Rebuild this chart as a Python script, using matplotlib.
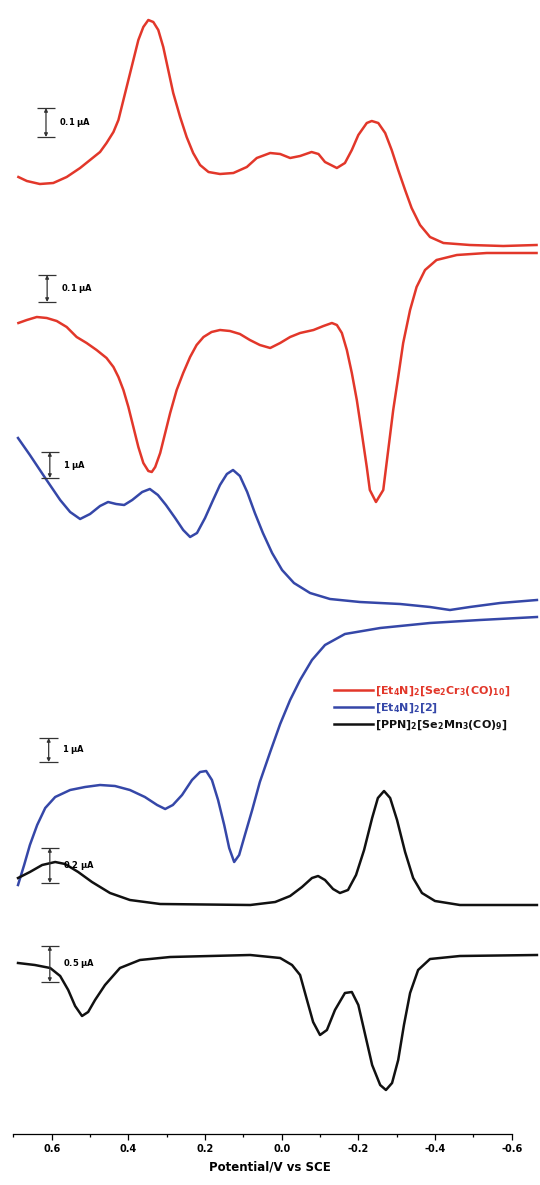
import matplotlib.pyplot as plt

plt.rcParams['font.family'] = ['DejaVu Sans']
plt.rcParams['mathtext.default'] = 'regular'

# potential (V vs SCE) and stacked current traces (display units, offset)
cr_ox_E = [0.687, 0.665, 0.631, 0.596, 0.561, 0.526, 0.500, 0.474, 0.457, 0.439, 0.426, 0.413, 0.400,
           0.387, 0.374, 0.361, 0.348, 0.335, 0.322, 0.309, 0.296, 0.283, 0.265, 0.248, 0.231, 0.213,
           0.191, 0.161, 0.126, 0.091, 0.065, 0.030, 0.004, -0.022, -0.048, -0.078, -0.096, -0.113,
           -0.144, -0.165, -0.183, -0.200, -0.222, -0.235, -0.252, -0.270, -0.287, -0.304, -0.322,
           -0.339, -0.361, -0.387, -0.422, -0.491, -0.578, -0.665]
cr_ox_i = [957, 953, 950, 951, 957, 966, 974, 982, 991, 1002, 1014, 1034, 1054,
           1074, 1094, 1107, 1114, 1112, 1104, 1087, 1064, 1041, 1017, 997, 981, 969,
           962, 960, 961, 967, 976, 981, 980, 976, 978, 982, 980, 972,
           966, 971, 984, 999, 1011, 1013, 1011, 1001, 984, 964, 944,
           926, 909, 897, 891, 889, 888, 889]

cr_red_E = [0.687, 0.665, 0.639, 0.613, 0.587, 0.561, 0.535, 0.509, 0.483, 0.457, 0.439, 0.426, 0.413,
            0.400, 0.387, 0.374, 0.361, 0.348, 0.339, 0.330, 0.317, 0.304, 0.291, 0.274, 0.257, 0.239,
            0.222, 0.204, 0.183, 0.161, 0.135, 0.109, 0.083, 0.057, 0.030, 0.004, -0.022, -0.048,
            -0.083, -0.109, -0.131, -0.144, -0.157, -0.170, -0.183, -0.196, -0.209, -0.222, -0.230,
            -0.246, -0.265, -0.278, -0.291, -0.304, -0.317, -0.335, -0.352, -0.374, -0.404, -0.457,
            -0.535, -0.665]
cr_red_i = [811, 814, 817, 816, 813, 807, 797, 791, 784, 776, 767, 757, 744,
            727, 707, 687, 671, 663, 662, 667, 681, 701, 721, 744, 761, 777,
            789, 797, 802, 804, 803, 800, 794, 789, 786, 791, 797, 801,
            804, 808, 811, 809, 801, 784, 761, 734, 701, 667, 644,
            632, 644, 684, 724, 757, 791, 824, 847, 864, 874, 879,
            881, 881]

b_ox_E = [0.688, 0.657, 0.617, 0.578, 0.552, 0.526, 0.500, 0.474, 0.453, 0.432, 0.411, 0.390, 0.364,
          0.344, 0.323, 0.302, 0.278, 0.257, 0.239, 0.221, 0.200, 0.179, 0.161, 0.143, 0.127, 0.109,
          0.090, 0.070, 0.049, 0.025, -0.001, -0.032, -0.074, -0.126, -0.204, -0.309, -0.387, -0.439,
          -0.491, -0.570, -0.666]
b_ox_i = [696, 679, 656, 634, 622, 615, 620, 628, 632, 630, 629, 634, 642,
          645, 639, 629, 616, 604, 597, 601, 616, 634, 649, 660, 664, 658,
          642, 621, 601, 581, 564, 551, 541, 535, 532, 530, 527, 524,
          527, 531, 534]

b_red_E = [0.688, 0.672, 0.657, 0.638, 0.617, 0.591, 0.552, 0.513, 0.474, 0.435, 0.396, 0.357, 0.325,
           0.304, 0.284, 0.260, 0.234, 0.213, 0.197, 0.182, 0.166, 0.150, 0.137, 0.124, 0.111, 0.096,
           0.077, 0.057, 0.030, 0.004, -0.022, -0.048, -0.079, -0.113, -0.165, -0.257, -0.387, -0.517,
           -0.666]
b_red_i = [249, 269, 289, 309, 326, 337, 344, 347, 349, 348, 344, 337, 329,
           325, 329, 339, 354, 362, 363, 354, 334, 309, 286, 272, 279, 299,
           324, 352, 382, 410, 434, 454, 474, 489, 500, 506, 511, 514,
           517]

mn_ox_E = [0.688, 0.657, 0.625, 0.591, 0.565, 0.531, 0.495, 0.448, 0.396, 0.317, 0.082, 0.017, -0.022,
           -0.053, -0.079, -0.095, -0.113, -0.134, -0.152, -0.173, -0.194, -0.215, -0.236, -0.251,
           -0.267, -0.283, -0.301, -0.322, -0.343, -0.366, -0.400, -0.465, -0.666]
mn_ox_i = [256, 262, 269, 272, 270, 262, 252, 241, 234, 230, 229, 232, 238,
           247, 256, 258, 254, 245, 241, 244, 259, 284, 316, 336,
           343, 336, 314, 282, 256, 241, 233, 229, 229]

mn_red_E = [0.688, 0.644, 0.604, 0.578, 0.557, 0.539, 0.521, 0.505, 0.487, 0.461, 0.422, 0.370, 0.291,
            0.082, 0.004, -0.027, -0.048, -0.066, -0.082, -0.100, -0.118, -0.139, -0.165, -0.183,
            -0.200, -0.215, -0.236, -0.257, -0.272, -0.288, -0.304, -0.319, -0.335, -0.356, -0.387,
            -0.465, -0.666]
mn_red_i = [171, 169, 166, 158, 144, 128, 118, 122, 134, 149, 166, 174, 177,
            179, 176, 169, 159, 134, 112, 99, 104, 124, 141, 142,
            129, 104, 69, 49, 44, 51, 74, 109, 141, 164, 175,
            178, 179]

# scale bars: label, x, bottom, top
bar_labels = ['0.1 $\\mu$A', '0.1 $\\mu$A', '1 $\\mu$A', '1 $\\mu$A', '0.2 $\\mu$A', '0.5 $\\mu$A']
bar_x = [0.615, 0.612, 0.605, 0.608, 0.605, 0.605]
bar_lo = [997, 832, 656, 372, 251, 152]
bar_hi = [1026, 859, 682, 396, 286, 188]

names = ['[Et$_4$N]$_2$[Se$_2$Cr$_3$(CO)$_{10}$]', '[Et$_4$N]$_2$[2]', '[PPN]$_2$[Se$_2$Mn$_3$(CO)$_9$]']
red, blue, black = '#e2372a', '#3547a8', '#111111'

fig = plt.figure(figsize=(5.4, 11.85), dpi=100)
ax = fig.add_axes([0, 51 / 1185, 1, 1134 / 1185])

lw = 1.8
l1, = ax.plot(cr_ox_E, cr_ox_i, color=red, lw=lw)
ax.plot(cr_red_E, cr_red_i, color=red, lw=lw)
l2, = ax.plot(b_ox_E, b_ox_i, color=blue, lw=lw)
ax.plot(b_red_E, b_red_i, color=blue, lw=lw)
l3, = ax.plot(mn_ox_E, mn_ox_i, color=black, lw=lw)
ax.plot(mn_red_E, mn_red_i, color=black, lw=lw)

for lab, x, lo, hi in zip(bar_labels, bar_x, bar_lo, bar_hi):
    ax.hlines([lo, hi], x - 0.024, x + 0.024, color='#333333', lw=0.9)
    ax.annotate('', xy=(x, hi), xytext=(x, lo),
                arrowprops=dict(arrowstyle='<|-|>', color='#333333', lw=0.9,
                                mutation_scale=5, shrinkA=0, shrinkB=0))
    ax.text(x - 0.035, (lo + hi) / 2, lab, fontsize=6, fontweight='bold',
            va='center', ha='left')

leg = ax.legend([l1, l2, l3], names, loc='upper left', bbox_to_anchor=(0.6, 0.405),
                frameon=False, fontsize=8, handlelength=3.5, handletextpad=0.2,
                labelspacing=0.3, labelcolor=[red, blue, black])
for t in leg.get_texts():
    t.set_fontweight('bold')

ax.set_xlim(0.735, -0.674)
ax.set_ylim(0, 1134)
for s in ['top', 'left', 'right']:
    ax.spines[s].set_visible(False)
ax.spines['bottom'].set_bounds(0.7, -0.6)
ax.spines['bottom'].set_linewidth(0.9)
ax.set_yticks([])
ax.set_xticks([0.6, 0.4, 0.2, 0.0, -0.2, -0.4, -0.6])
ax.set_xticklabels(['0.6', '0.4', '0.2', '0.0', '-0.2', '-0.4', '-0.6'], fontweight='bold')
ax.set_xticks([0.7, 0.5, 0.3, 0.1, -0.1, -0.3, -0.5], minor=True)
ax.tick_params(axis='x', which='major', length=4, width=0.9, labelsize=7, pad=3)
ax.tick_params(axis='x', which='minor', length=2, width=0.9)
ax.set_xlabel('Potential/V vs SCE', fontsize=8.5, fontweight='bold', labelpad=5)

fig.savefig('out.png', dpi=100)
